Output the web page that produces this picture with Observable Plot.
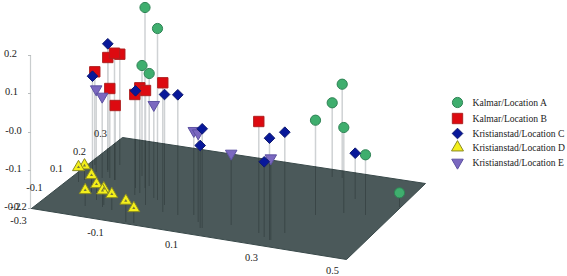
<!DOCTYPE html>
<html>
<head>
<meta charset="utf-8">
<script src="https://cdn.jsdelivr.net/npm/d3@7"></script>
<script src="https://cdn.jsdelivr.net/npm/@observablehq/plot@0.6"></script>
<style>
html,body{margin:0;padding:0;background:#fff}
svg{display:block}
</style>
</head>
<body>
<div id="chart"></div>
<script>
// Projected picture-plane readings of the 3D scatter: across, marker height, floor contact.
const seriesNames = ["Kalmar/Location A","Kalmar/Location B","Kristianstad/Location C","Kristianstad/Location D","Kristianstad/Location E"];

const aAcross = [144.5,157,141.5,148.7,341.7,331.7,315,343.3,365,399];
const aTop    = [7,28,65,73,83.7,102.3,119.7,127,154.3,192.3];
const aFloor  = [188,200,176,186,178,177,215,213,215,207];

const bAcross = [94.3,107.3,114,119.3,109.3,114.7,134.3,139.3,145,162.3,258.3];
const bTop    = [71.3,57,52.7,53.7,88,105,94,87.3,90,82.3,121];
const bFloor  = [165,172,180,165,178,180,195,193,205,212,233];

const cAcross = [107.3,92,135,164,177.3,201.7,199.7,263.7,269,284.3,354.7];
const cTop    = [43.3,75.7,90.3,94,94.3,128.3,145,161.3,137.7,131.7,152.7];
const cFloor  = [170,170,188,205,215,228,228,237,240,233,199];

const dAcross = [78,84,91,96,84.7,103.3,102,111.3,125.3,133.3];
const dTop    = [166.7,165,174.7,183.7,189.7,188,190,193.7,200.3,207.7];
const dFloor  = [182,180,192,200,206,205,207,210,222,223];

const eAcross = [95.7,101.7,153.3,193.3,197.7,230.7,270.3];
const eTop    = [88.7,96,104.3,130.3,132.7,153,157.7];
const eFloor  = [172,178,198,215,222,225,240];

const floorAcross = [31,122,425,346,31];
const floorDepth  = [208,137,183,259,208];

const zLabels = ["0.2","0.1","-0.0","-0.1","-0.2"];
const zAt     = [55,93,132,170,208];
const zLabAcross = [10,11,13,13,12];
const xLabels = ["-0.1","0.1","0.3","0.5"];
const xLabAcross = [95,171,251,332];
const xLabDepth  = [232,244,257,270];
const yLabels = ["-0.3","-0.2","-0.1","0.1","0.2","0.3"];
const yLabAcross = [18,18,34,56,79,100];
const yLabDepth  = [220,206,187,168,151,133];

const look = {
  "Kalmar/Location A":{symbol:"circle",fill:"#3fae6e",stroke:"#2f8355",r:5.1,rotate:0},
  "Kalmar/Location B":{symbol:"square2",fill:"#dd0a10",stroke:"#b02020",r:6.6,rotate:0},
  "Kristianstad/Location C":{symbol:"diamond2",fill:"#08189a",stroke:"#101a70",r:4.8,rotate:0},
  "Kristianstad/Location D":{symbol:"triangle2",fill:"#f4ef1a",stroke:"#8a8a22",r:5.7,rotate:0},
  "Kristianstad/Location E":{symbol:"triangle2",fill:"#7b68c0",stroke:"#5d52a2",r:5.5,rotate:180}
};

function rowsOf(name, across, top, floor){
  return across.map((v,i)=>({series:name, across:v, top:top[i], floor:floor[i]}));
}
const rows = [
  ...rowsOf(seriesNames[0],aAcross,aTop,aFloor),
  ...rowsOf(seriesNames[1],bAcross,bTop,bFloor),
  ...rowsOf(seriesNames[2],cAcross,cTop,cFloor),
  ...rowsOf(seriesNames[3],dAcross,dTop,dFloor),
  ...rowsOf(seriesNames[4],eAcross,eTop,eFloor)
].sort((p,q)=>p.floor-q.floor);

const floorRim = d3.scaleLinear([31,122,425],[208,137,183]).clamp(true);
const floorPts = floorAcross.map((v,i)=>({across:v,depth:floorDepth[i]}));
const legendRows = seriesNames.map((s,i)=>({series:s,slot:[102,118,133,147,162][i]}));
const legendX = 457, legendTextX = 472;
const serif = "'Liberation Serif', 'Times New Roman', serif";
const dotOpts = {
  fill:d=>look[d.series].fill, stroke:d=>look[d.series].stroke,
  symbol:d=>look[d.series].symbol, r:d=>look[d.series].r, rotate:d=>look[d.series].rotate, strokeWidth:1
};
const labelOpts = {fontSize:10.4,fill:"#222",fontFamily:serif};

const chart = Plot.plot({
  width:567,height:276,margin:0,
  style:{background:"transparent"},
  x:{domain:[0,567],range:[0,567],axis:null},
  y:{domain:[0,276],range:[0,276],axis:null},
  r:{type:"identity"},
  marks:[
    Plot.ruleX([30],{y1:55,y2:208,stroke:"#c9cdce",strokeWidth:1.2}),
    Plot.ruleY(zAt,{x1:28,x2:31,stroke:"#b9bdbe"}),
    Plot.ruleX(rows,{x:"across",y1:"top",y2:"floor",stroke:"#cfd2d4",strokeWidth:1.5}),
    Plot.line(floorPts,{x:"across",y:"depth",fill:"#4b595a",stroke:"#39494a",strokeWidth:1}),
    Plot.ruleX(rows,{x:"across",y1:d=>Math.max(d.top,floorRim(d.across)),y2:"floor",stroke:"#2f3a3b",strokeWidth:1,strokeOpacity:.6}),
    Plot.dot(rows,{x:"across",y:"top",...dotOpts}),
    Plot.dot(rows.filter(d=>d.series===seriesNames[3]),{x:"across",y:"top",symbol:"triangle2",r:1.5,fill:"#77773a"}),
    Plot.text(zLabels,{x:(d,i)=>zLabAcross[i],y:(d,i)=>zAt[i]-2,text:d=>d,...labelOpts}),
    Plot.text(xLabels,{x:(d,i)=>xLabAcross[i],y:(d,i)=>xLabDepth[i],text:d=>d,...labelOpts}),
    Plot.text(yLabels,{x:(d,i)=>yLabAcross[i],y:(d,i)=>yLabDepth[i],text:d=>d,...labelOpts}),
    Plot.dot(legendRows,{x:()=>legendX,y:"slot",...dotOpts}),
    Plot.text(legendRows,{x:()=>legendTextX,y:"slot",text:"series",textAnchor:"start",fontSize:9.6,fill:"#222",fontFamily:serif})
  ]
});
document.getElementById("chart").append(chart);
</script>
</body>
</html>
